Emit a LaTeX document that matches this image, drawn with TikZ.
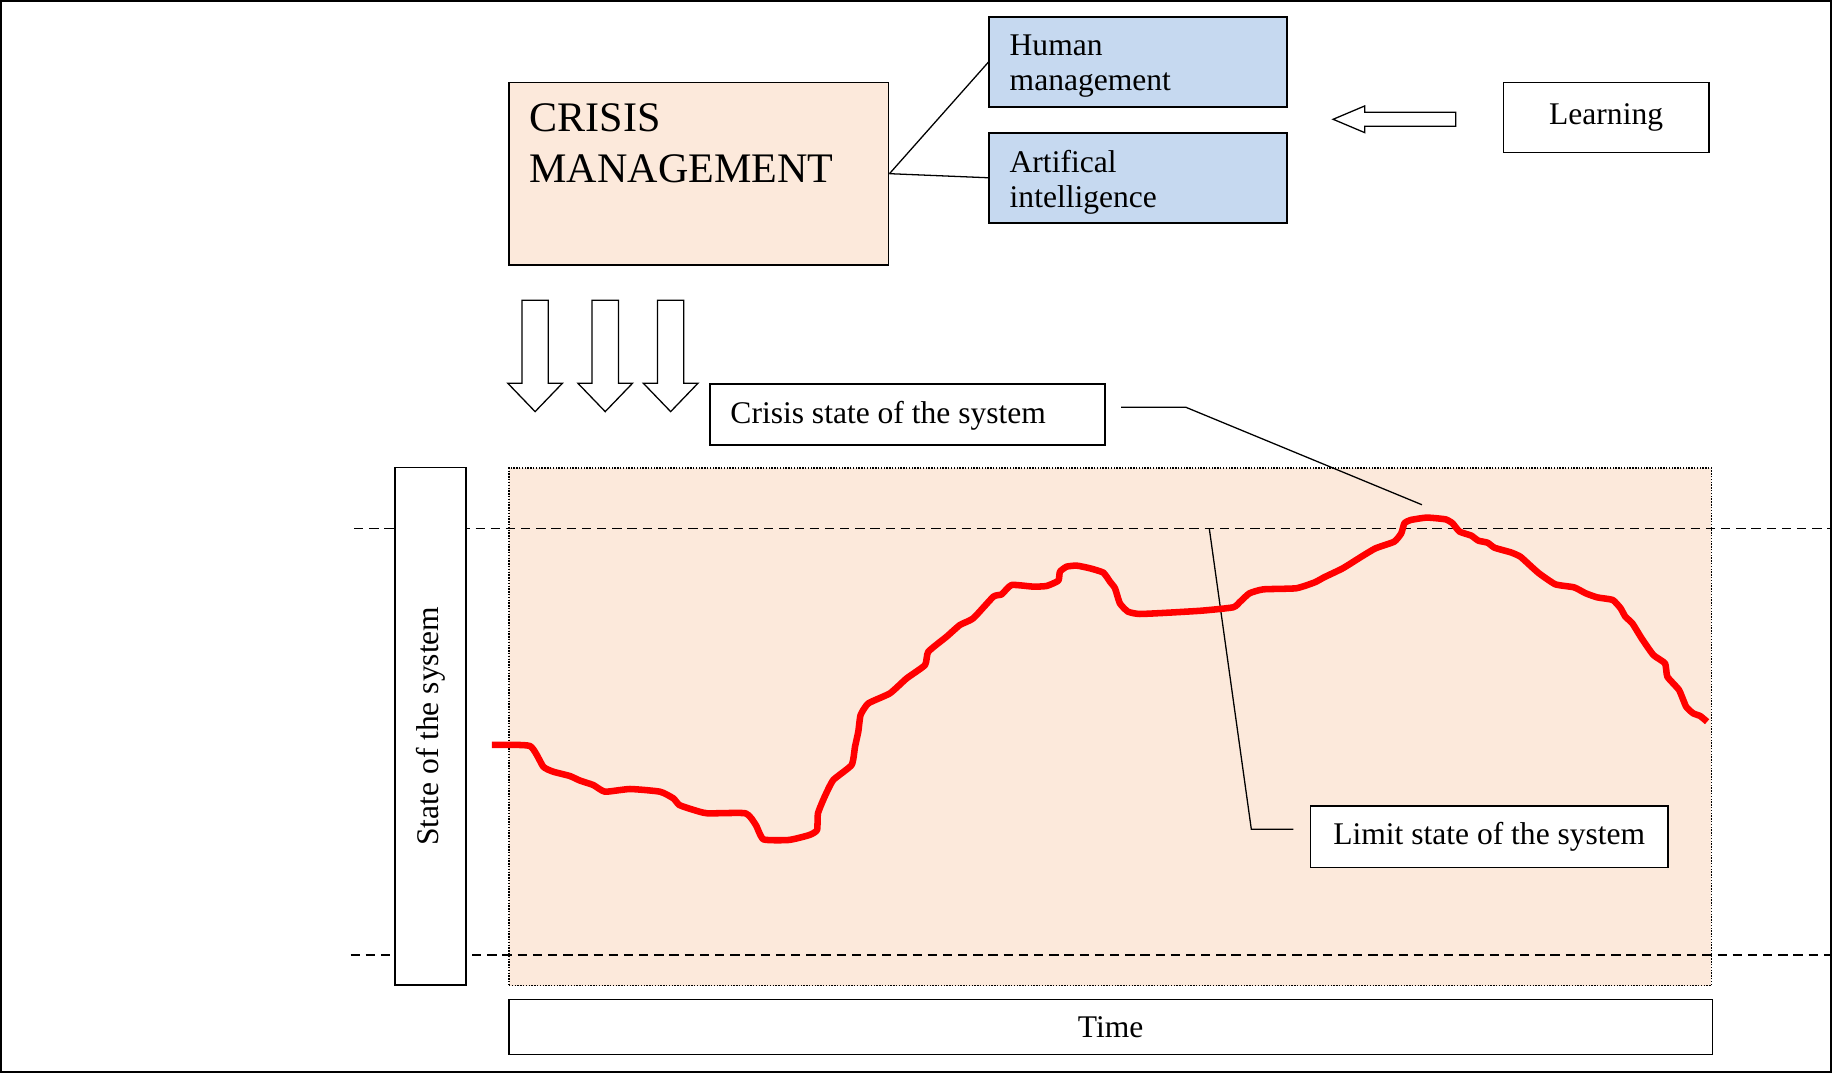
\documentclass[tikz,border=0pt]{standalone}
\usepackage{fontspec}
\setmainfont{Liberation Serif}
\usetikzlibrary{calc}
\definecolor{peach}{RGB}{252,233,219}
\definecolor{paleblue}{RGB}{198,217,240}
\definecolor{curvered}{RGB}{255,0,0}

\begin{document}
\begin{tikzpicture}[x=1pt,y=-1pt,
  box/.style={draw=black, line width=1.3pt, fill=white, inner sep=0pt,
    font=\fontsize{27}{30}\selectfont},
  cmbox/.style={box, fill=peach},
  techbox/.style={box, fill=paleblue},
  boxtext/.style={anchor=north west, align=left, inner sep=0pt},
  zonebox/.style={fill=peach, draw=black, line width=1.3pt,
    dash pattern=on 1.2pt off 1.2pt, inner sep=0pt},
  link/.style={draw=black, line width=1.1pt},
  bound/.style={draw=black, dash pattern=on 8pt off 5pt, line width=1.3pt},
  hollowarrow/.style={draw=black, fill=white, line width=1.1pt, line join=miter},
  trend/.style={draw=curvered, line width=5.6pt, line join=round}
]
\useasboundingbox (0,0) rectangle (1568,918);
\draw[line width=1.5pt] (0.75,0.75) rectangle (1567.25,917.25);

% crisis management and its two means
\node[cmbox, minimum width=325pt, minimum height=156pt, anchor=north west,
  label={[boxtext, font=\fontsize{36}{43.6}\selectfont, xshift=18pt, yshift=-18.4pt]north west:CRISIS\\MANAGEMENT}]
  (cm) at (435,70) {};
\node[techbox, minimum width=255pt, minimum height=77pt, anchor=north west,
  label={[boxtext, font=\fontsize{27}{29.7}\selectfont, xshift=18pt, yshift=-15.6pt]north west:Human\\management}]
  (hm) at (846,14) {};
\node[techbox, minimum width=255pt, minimum height=77pt, anchor=north west,
  label={[boxtext, font=\fontsize{27}{29.7}\selectfont, xshift=18pt, yshift=-15.5pt]north west:Artifical\\intelligence}]
  (ai) at (846,113) {};
\draw[link] (cm.east) -- (hm.west);
\draw[link] (cm.east) -- (ai.west);

% learning feeds back
\node[box, minimum width=176pt, minimum height=60pt, anchor=north west] (learn) at (1286,70) {Learning};
\draw[hollowarrow] (1246,96.1) -- (1168,96.1) -- (1168,90.7) -- (1141,102.1)
  -- (1168,113.5) -- (1168,108.1) -- (1246,108.1) -- cycle;

% management acts on the system
\foreach \cx in {458,518,574}
  \draw[hollowarrow] (\cx-11.3,257) -- (\cx+11.3,257) -- (\cx+11.3,328)
    -- (\cx+23.4,328) -- (\cx,352.3) -- (\cx-23.4,328) -- (\cx-11.3,328) -- cycle;

% state region and its limits
\node[zonebox, minimum width=1029pt, minimum height=443pt, anchor=north west] (zone) at (435,400) {};
\coordinate (upperL) at (303,452.2);
\coordinate (upperR) at (1566,452.2);
\coordinate (lowerL) at (300,817.4);
\coordinate (lowerR) at (1566,817.4);
\draw[bound] (upperL) -- (upperR);
\draw[bound] (lowerL) -- (lowerR);

\node[box, minimum width=443pt, minimum height=61pt, rotate=90] (state) at (368.5,621.5) {State of the system};
\node[box, minimum width=1030pt, minimum height=47pt, anchor=north west] (time) at (435,855) {Time};

% callouts
\node[box, minimum width=338pt, minimum height=52pt, anchor=north west,
  label={[anchor=west, inner sep=0pt, font=\fontsize{27}{30}\selectfont, xshift=18pt, yshift=-1.5pt]west:Crisis state of the system}]
  (crisis) at (607,328) {};
\node[box, minimum width=306pt, minimum height=53pt, anchor=north west]
  (limit) at (1121,689) {Limit state of the system};

\coordinate (crisisTail) at (959.5,348.6);
\coordinate (crisisBend) at (1015,348.6);
\coordinate (crisisPeak) at (1217,432);
\draw[link] (crisisTail) -- (crisisBend) -- (crisisPeak);

\coordinate (limitTail) at (1107,709.8);
\coordinate (limitBend) at (1071,709.8);
\coordinate (limitEdge) at (1035,452.2);
\draw[link] (limitTail) -- (limitBend) -- (limitEdge);

% trajectory of the system state
\draw[trend] plot[smooth, tension=0.3] coordinates {
 (421,637.6) (453.6,638.5) (465,656.2) (473.6,660.5) (487.8,664.2) (496.4,668.1)
 (507.8,671.9) (517.8,677.6) (539.2,675.3) (564.9,677.6) (576.3,683.3) (581.4,689)
 (593,693) (605.4,696.1) (638.1,696.1) (646.9,706.1) (653.5,718.4) (675.3,718.9)
 (692.7,714.7) (699.3,710.4) (700.1,696.1) (705.8,681.9) (713.2,667.6) (728.9,654.7)
 (731.8,639.1) (734.6,626.2) (736.6,611.9) (743.2,602) (761.7,593.4) (776,580.6)
 (791.7,569.2) (794.5,557.8) (810.2,544.9) (821.6,534.9) (833,529.2) (850.2,510.7)
 (857.3,508.7) (865.8,500.7) (884.4,502.1) (895.8,501.5) (905.8,497) (907.2,489.3)
 (912.9,485) (921.5,484.1) (932.9,486.4) (944.3,490.1) (950,497.8) (954.3,503.5)
 (958.5,516.4) (965.4,523.5) (975.4,525.5) (1001.4,524.3) (1029.4,522.6) (1055.4,519.8)
 (1061.4,515) (1069.4,507.8) (1081.4,504.4) (1109.3,503.5) (1125.3,498.4) (1133.3,494.1)
 (1149.3,486.4) (1165.3,476.4) (1177.3,469.3) (1193.3,463.6) (1199.3,456.5) (1202,447.9)
 (1207.2,445.1) (1221.2,443) (1237.2,444.5) (1243.2,447.9) (1249.2,455) (1259.2,458.4)
 (1265.2,462.7) (1273.2,464.5) (1279.2,468.8) (1293.2,472.8) (1301.2,476.4) (1309.2,483.6)
 (1317.2,490.7) (1331.2,500.1) (1347.2,502.7) (1357.2,507.8) (1367.1,511.3) (1380.3,513.5)
 (1387.1,520.7) (1391.1,527.8) (1397.1,533.5) (1405.1,546.4) (1415.1,560.6) (1425.1,567.8)
 (1427.1,579.2) (1437.1,590.6) (1443.1,604.8) (1449.1,610.5) (1455.1,612.8) (1461.1,617.7)};
\end{tikzpicture}
\end{document}
